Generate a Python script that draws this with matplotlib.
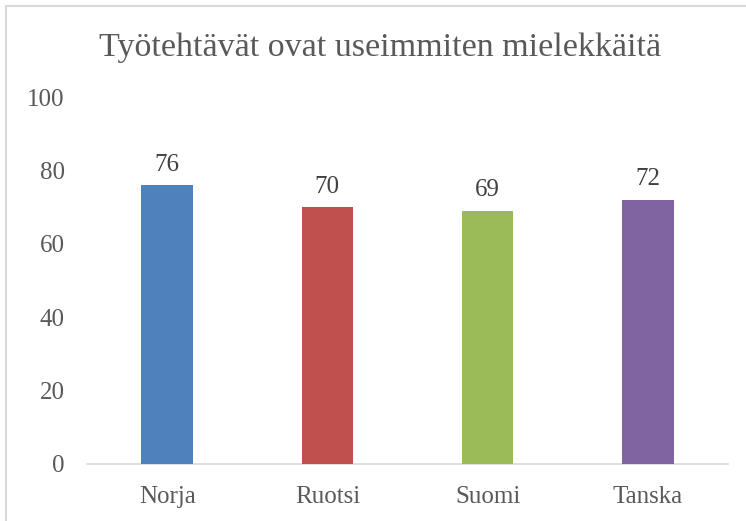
import matplotlib
matplotlib.use("Agg")
import matplotlib.pyplot as plt
from matplotlib.patches import Rectangle

categories = ["Norja", "Ruotsi", "Suomi", "Tanska"]
values = [76, 70, 69, 72]
colors = ["#4F81BD", "#C0504D", "#9BBB59", "#8064A2"]
yticks = [0, 20, 40, 60, 80, 100]
title = "Työtehtävät ovat useimmiten mielekkäitä"

plt.rcParams['font.family'] = ['Liberation Serif', 'DejaVu Serif']
txt = "#595959"

fig = plt.figure(figsize=(7.46, 5.21), dpi=100)
ax = fig.add_axes([87/746, 1-464/521, (728-87)/746, (464-97)/521])

x = range(len(categories))
bars = ax.bar(x, values, width=0.32, color=colors, zorder=3)
for xi, v in zip(x, values):
    ax.text(xi, v + 2.6, str(v), ha='center', va='bottom', fontsize=18, color="#404040")

ax.set_xlim(-0.5, len(categories) - 0.5)
ax.set_ylim(0, 100)
ax.set_yticks(yticks)
ax.set_yticklabels([str(t) for t in yticks], fontsize=18, color=txt)
ax.set_xticks(list(x))
ax.set_xticklabels(categories, fontsize=18, color=txt)
ax.tick_params(axis='both', length=0)
ax.tick_params(axis='y', pad=16)
ax.tick_params(axis='x', pad=16)
for s in ['top', 'right', 'left']:
    ax.spines[s].set_visible(False)
ax.spines['bottom'].set_color('#d9d9d9')
ax.spines['bottom'].set_linewidth(1.2)

fig.text(380/746, 1-48/521, title, ha='center', va='center', fontsize=24.5, color=txt)

# chart border (partially visible)
fig.patches.append(Rectangle((6/746, -0.05), 1.1, 1 - 6/521 + 0.05, transform=fig.transFigure,
                             fill=False, edgecolor='#d9d9d9', linewidth=1.5))

fig.savefig("out.png", dpi=100)
